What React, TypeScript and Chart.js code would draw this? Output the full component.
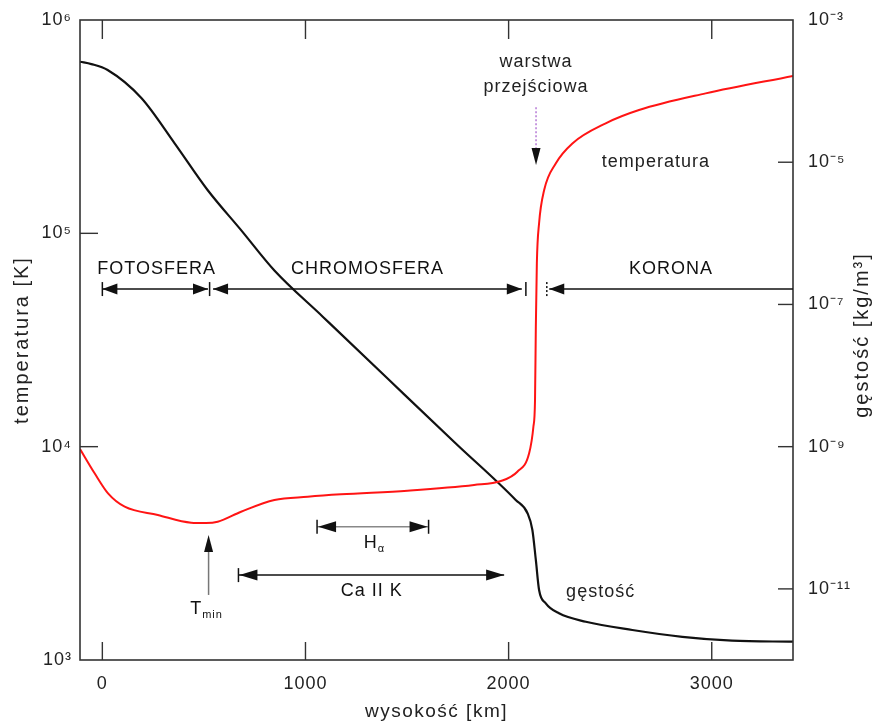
import React, { useEffect, useRef } from "react";
import { Chart, registerables } from "chart.js";

Chart.register(...registerables);

// ---- data (height in km) ----
const tempHeights = [-110, -38, 28, 110, 273, 437, 510, 568, 683, 847, 1011, 1175, 1502, 1830, 1962, 2043, 2101, 2122, 2130, 2134, 2139, 2150, 2175, 2232, 2314, 2478, 2642, 2970, 3400];
const tempValues = [9750, 7500, 6040, 5230, 4785, 4404, 4390, 4450, 4955, 5623, 5825, 5980, 6220, 6610, 6900, 7630, 9310, 12400, 16550, 36500, 72400, 111500, 159600, 212700, 264000, 328000, 378500, 453000, 547000];

const densHeights = [-110, -54, 26, 192, 355, 518, 683, 847, 1085, 1412, 1740, 2035, 2093, 2117, 2134, 2150, 2183, 2248, 2380, 2609, 2855, 3100, 3400];
const densValues = [2.59e-4, 2.4e-4, 1.98e-4, 8.0e-5, 1.86e-5, 4.07e-6, 1.11e-6, 3.0e-7, 6.73e-8, 8.65e-9, 1.11e-9, 1.78e-10, 1.16e-10, 6.73e-11, 2.55e-11, 9.64e-12, 6.26e-12, 4.53e-12, 3.45e-12, 2.64e-12, 2.12e-12, 1.87e-12, 1.81e-12];

const xTicks = [0, 1000, 2000, 3000];
const tempTicks = [1e3, 1e4, 1e5, 1e6];
const tempTickLabels = ["10³", "10⁴", "10⁵", "10⁶"];
const densTicks = [1e-11, 1e-9, 1e-7, 1e-5, 1e-3];
const densTickLabels = ["10⁻¹¹", "10⁻⁹", "10⁻⁷", "10⁻⁵", "10⁻³"];

// ---- annotations (in data units: km, K) ----
const regionArrowT = 54800;
const regionLabelT = 68000;
const regionNames = ["FOTOSFERA", "CHROMOSFERA", "KORONA"];
const regionLabelX = [267, 1305, 2799];
const regionFrom = [0, 545, 2200];
const regionTo = [520, 2065, 3400];

const FAMILY = '"Liberation Sans", Arial, Helvetica, sans-serif';
const FONT = "18px " + FAMILY;
const SMALL = "11px " + FAMILY;

function head(ctx: CanvasRenderingContext2D, x: number, y: number, dir: string, len: number, half: number) {
  ctx.beginPath();
  if (dir === "left") { ctx.moveTo(x, y); ctx.lineTo(x + len, y - half); ctx.lineTo(x + len, y + half); }
  if (dir === "right") { ctx.moveTo(x, y); ctx.lineTo(x - len, y - half); ctx.lineTo(x - len, y + half); }
  if (dir === "up") { ctx.moveTo(x, y); ctx.lineTo(x - half, y + len); ctx.lineTo(x + half, y + len); }
  if (dir === "down") { ctx.moveTo(x, y); ctx.lineTo(x - half, y - len); ctx.lineTo(x + half, y - len); }
  ctx.closePath();
  ctx.fill();
}

function line(ctx: CanvasRenderingContext2D, x1: number, y1: number, x2: number, y2: number) {
  ctx.beginPath();
  ctx.moveTo(x1, y1);
  ctx.lineTo(x2, y2);
  ctx.stroke();
}

function subText(ctx: CanvasRenderingContext2D, main: string, sub: string, cx: number, cy: number) {
  ctx.font = FONT;
  const w1 = ctx.measureText(main).width;
  ctx.font = SMALL;
  const w2 = ctx.measureText(sub).width;
  const start = cx - (w1 + w2) / 2;
  ctx.textAlign = "left";
  ctx.textBaseline = "middle";
  ctx.font = FONT;
  ctx.fillText(main, start, cy);
  ctx.font = SMALL;
  ctx.fillText(sub, start + w1, cy + 6);
}

const annotationPlugin = {
  id: "solarAnnotations",
  beforeDraw(chart: any) {
    (chart.ctx as any).letterSpacing = "1px";
  },
  afterDraw(chart: any) {
    const ctx: CanvasRenderingContext2D = chart.ctx;
    const { left, right, top, bottom } = chart.chartArea;
    const sx = chart.scales.x;
    const sT = chart.scales.yT;
    const sD = chart.scales.yD;
    const X = (v: number) => sx.getPixelForValue(v);
    const YT = (v: number) => sT.getPixelForValue(v);
    const YD = (v: number) => sD.getPixelForValue(v);

    ctx.save();
    (ctx as any).letterSpacing = "1px";
    // frame
    ctx.strokeStyle = "#333";
    ctx.lineWidth = 1.6;
    ctx.strokeRect(left, top, right - left, bottom - top);

    // inward ticks
    ctx.lineWidth = 1.4;
    xTicks.forEach((v) => {
      const x = X(v);
      line(ctx, x, bottom, x, bottom - 18);
      line(ctx, x, top, x, top + 19);
    });
    tempTicks.slice(1, 3).forEach((v) => {
      const y = YT(v);
      line(ctx, left, y, left + 18, y);
    });
    densTicks.slice(0, 4).forEach((v) => {
      const y = YD(v);
      line(ctx, right, y, right - 15, y);
    });

    // region arrows
    ctx.strokeStyle = "#111";
    ctx.fillStyle = "#111";
    ctx.lineWidth = 1.5;
    const ry = YT(regionArrowT);
    regionNames.forEach((name, i) => {
      const x1 = X(regionFrom[i]);
      const x2 = X(regionTo[i]);
      line(ctx, x1, ry, x2, ry);
      head(ctx, x1, ry, "left", 15, 5.5);
      if (i < 2) head(ctx, x2, ry, "right", 15, 5.5);
      ctx.font = FONT;
      ctx.textAlign = "center";
      ctx.textBaseline = "middle";
      ctx.fillText(name, X(regionLabelX[i]), YT(regionLabelT));
    });
    // bars
    [0, 528, 2085].forEach((v) => {
      const x = X(v);
      line(ctx, x, ry - 7, x, ry + 7);
    });
    ctx.setLineDash([2, 2]);
    line(ctx, X(2188), ry - 7, X(2188), ry + 7);
    ctx.setLineDash([]);

    // H alpha
    const hy = YT(4212);
    ctx.strokeStyle = "#888";
    line(ctx, X(1057), hy, X(1606), hy);
    ctx.strokeStyle = "#111";
    line(ctx, X(1057), hy - 7, X(1057), hy + 7);
    line(ctx, X(1606), hy - 7, X(1606), hy + 7);
    head(ctx, X(1057) + 1, hy, "left", 18, 5.5);
    head(ctx, X(1606) - 1, hy, "right", 18, 5.5);
    subText(ctx, "H", "α", X(1339), YT(3532));

    // Ca II K
    const cy = YT(2500);
    line(ctx, X(670), cy, X(1978), cy);
    line(ctx, X(670), cy - 7, X(670), cy + 7);
    head(ctx, X(670) + 1, cy, "left", 18, 5.5);
    head(ctx, X(1978), cy, "right", 18, 5.5);
    ctx.font = FONT;
    ctx.textAlign = "center";
    ctx.textBaseline = "middle";
    ctx.fillText("Ca II K", X(1326), YT(2103));

    // T min
    const tx = X(523);
    ctx.strokeStyle = "#777";
    line(ctx, tx, YT(2018), tx, YT(3855) + 12);
    head(ctx, tx, YT(3855), "up", 17, 4.5);
    subText(ctx, "T", "min", X(513), YT(1733));

    // warstwa przejsciowa
    ctx.font = FONT;
    ctx.textAlign = "center";
    ctx.fillStyle = "#222";
    ctx.fillText("warstwa", X(2135), YT(635000));
    ctx.fillText("przejściowa", X(2135), YT(485000));
    ctx.strokeStyle = "#b67ad6";
    ctx.lineWidth = 1.5;
    ctx.setLineDash([2, 2]);
    line(ctx, X(2135), YT(390000), X(2135), YT(251000));
    ctx.setLineDash([]);
    ctx.fillStyle = "#111";
    head(ctx, X(2135), YT(209000), "down", 17, 4.5);

    // curve labels
    ctx.fillStyle = "#222";
    ctx.fillText("temperatura", X(2725), YT(216000));
    ctx.fillText("gęstość", X(2453), YT(2090));

    // axis titles
    ctx.font = "19px " + FAMILY;
    (ctx as any).letterSpacing = "1.5px";
    ctx.fillText("wysokość [km]", (left + right) / 2, 712);
    ctx.font = "20px " + FAMILY;
    (ctx as any).letterSpacing = "2px";
    ctx.save();
    ctx.translate(22, 340);
    ctx.rotate(-Math.PI / 2);
    ctx.fillText("temperatura [K]", 0, 0);
    ctx.restore();
    ctx.save();
    ctx.translate(862, 335);
    ctx.rotate(-Math.PI / 2);
    ctx.fillText("gęstość [kg/m³]", 0, 0);
    ctx.restore();

    ctx.restore();
  },
};

export default function App() {
  const ref = useRef<HTMLCanvasElement | null>(null);

  useEffect(() => {
    if (!ref.current) return;
    Chart.defaults.font.family = FAMILY;
    Chart.defaults.font.size = 18;
    Chart.defaults.color = "#222";

    const zeroVPad = (s: any) => {
      s.paddingTop = 0;
      s.paddingBottom = 0;
    };

    const chart = new Chart(ref.current, {
      type: "line",
      data: {
        datasets: [
          {
            label: "temperatura",
            data: tempHeights.map((h, i) => ({ x: h, y: tempValues[i] })),
            yAxisID: "yT",
            borderColor: "#ff1414",
            borderWidth: 2,
            pointRadius: 0,
            cubicInterpolationMode: "monotone",
            fill: false,
          },
          {
            label: "gęstość",
            data: densHeights.map((h, i) => ({ x: h, y: densValues[i] })),
            yAxisID: "yD",
            borderColor: "#111111",
            borderWidth: 2.2,
            pointRadius: 0,
            cubicInterpolationMode: "monotone",
            fill: false,
          },
        ],
      },
      options: {
        responsive: false,
        animation: false,
        devicePixelRatio: 1,
        layout: { autoPadding: false, padding: { top: 20, left: 0, right: 0, bottom: 0 } },
        plugins: { legend: { display: false }, tooltip: { enabled: false } },
        scales: {
          x: {
            type: "linear",
            min: -110,
            max: 3400,
            grid: { display: false, drawTicks: false },
            border: { display: false },
            ticks: {
              padding: 13,
              autoSkip: false,
              maxRotation: 0,
              color: "#222",
              callback: (v: any) => String(v),
            },
            afterBuildTicks: (s: any) => {
              s.ticks = xTicks.map((v) => ({ value: v }));
            },
            afterFit: (s: any) => {
              s.height = 64;
              s.paddingLeft = 0;
              s.paddingRight = 0;
            },
          },
          yT: {
            type: "logarithmic",
            position: "left",
            min: 1e3,
            max: 1e6,
            grid: { display: false, drawTicks: false },
            border: { display: false },
            ticks: {
              padding: 8,
              autoSkip: false,
              color: "#222",
              callback: (v: any) => {
                const i = tempTicks.indexOf(Number(v));
                return i >= 0 ? tempTickLabels[i] : "";
              },
            },
            afterBuildTicks: (s: any) => {
              s.ticks = tempTicks.map((v) => ({ value: v }));
            },
            afterFit: (s: any) => {
              s.width = 80;
              zeroVPad(s);
            },
          },
          yD: {
            type: "logarithmic",
            position: "right",
            min: 1e-12,
            max: 1e-3,
            grid: { display: false, drawTicks: false },
            border: { display: false },
            ticks: {
              padding: 15,
              autoSkip: false,
              color: "#222",
              callback: (v: any) => {
                const i = densTicks.findIndex((t) => Math.abs(Math.log10(t) - Math.log10(Number(v))) < 1e-6);
                return i >= 0 ? densTickLabels[i] : "";
              },
            },
            afterBuildTicks: (s: any) => {
              s.ticks = densTicks.map((v) => ({ value: v }));
            },
            afterFit: (s: any) => {
              s.width = 86;
              zeroVPad(s);
            },
          },
        },
      } as any,
      plugins: [annotationPlugin],
    });
    return () => chart.destroy();
  }, []);

  return (
    <div style={{ position: "absolute", left: 0, top: 0, width: 879, height: 724, background: "#fff" }}>
      <canvas ref={ref} width={879} height={724} style={{ display: "block" }} />
    </div>
  );
}
